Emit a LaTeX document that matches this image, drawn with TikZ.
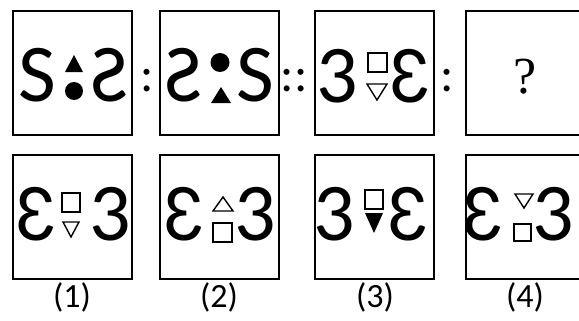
\documentclass[tikz,border=0pt]{standalone}
\usepackage{fontspec}
\setmainfont{Carlito}
\newfontfamily\queryfont{Liberation Serif}
\usepackage{graphicx}
\usetikzlibrary{positioning}

\begin{document}
\begin{tikzpicture}[
    x=0.5pt, y=-0.5pt,
    panel/.style={rectangle, draw, line width=1pt, minimum width=59.5pt, minimum height=62pt, inner sep=0pt},
    glyph/.style={inner sep=0pt, font=\fontsize{41}{41}\selectfont},
    ratio/.style={inner sep=0pt, font=\fontsize{25}{25}\selectfont},
    query/.style={inner sep=0pt, font=\fontsize{26}{26}\selectfont\queryfont},
    caption/.style={inner sep=0pt, font=\fontsize{17}{20}\selectfont},
    hollow/.style={draw, line width=0.7pt, line join=miter},
    filled/.style={fill=black}
]
    \useasboundingbox (0,0) rectangle (579,321);
    \clip (0,0) rectangle (579,321);

    % question row
    \node[panel] (q_1) at (72.5, 73) {};
    \node[panel] (q_2) at (219.5, 73) {};
    \node[panel] (q_3) at (374.5, 73) {};
    \node[panel] (q_4) at (525.5, 73) {};

    \node[ratio] (colon_1) at (147, 81) {:};
    \node[ratio] (colon_2) at (294, 81) {::};
    \node[ratio] (colon_3) at (447, 81) {:};

    \node[glyph] (q1_left) at (37, 75) {S};
    \node[glyph] (q1_right) at (110, 75) {\reflectbox{S}};
    \path[filled] (74, 55) -- (83, 72) -- (65, 72) -- cycle;
    \path[filled] (74, 91) circle[radius=9];

    \node[glyph] (q2_left) at (184, 75) {\reflectbox{S}};
    \node[glyph] (q2_right) at (255, 75) {S};
    \path[filled] (220, 62.5) circle[radius=9.5];
    \path[filled] (221, 87) -- (231, 103) -- (211, 103) -- cycle;

    \node[glyph] (q3_left) at (337, 76) {3};
    \node[glyph] (q3_right) at (411, 76) {\reflectbox{3}};
    \draw[hollow] (368, 53) rectangle (387, 72);
    \draw[hollow] (367, 84) -- (387, 84) -- (377, 100) -- cycle;

    \node[query] (q4_mark) at (525, 77) {?};

    % answer row
    \node[panel] (a_1) at (72.5, 217) {};
    \node[panel] (a_2) at (219.5, 217) {};
    \node[panel] (a_3) at (374.5, 217) {};
    \node[panel] (a_4) at (525.5, 217) {};

    \node[glyph] (a1_left) at (37, 214) {\reflectbox{3}};
    \node[glyph] (a1_right) at (110, 214) {3};
    \draw[hollow] (62, 193) rectangle (80, 212);
    \draw[hollow] (63, 222) -- (79, 222) -- (71, 237) -- cycle;

    \node[glyph] (a2_left) at (185, 214) {\reflectbox{3}};
    \node[glyph] (a2_right) at (255, 214) {3};
    \draw[hollow] (223, 197) -- (233, 211) -- (213, 211) -- cycle;
    \draw[hollow] (213, 223) rectangle (232, 242);

    \node[glyph] (a3_left) at (334, 214) {3};
    \node[glyph] (a3_right) at (409, 214) {\reflectbox{3}};
    \draw[hollow] (365, 190) rectangle (383, 209);
    \path[filled] (365, 213) -- (383, 213) -- (374, 233) -- cycle;

    \node[glyph] (a4_left) at (484, 214) {\reflectbox{3}};
    \node[glyph] (a4_right) at (553, 214) {3};
    \draw[hollow] (515, 194) -- (533, 194) -- (524, 208) -- cycle;
    \draw[hollow] (514, 224) rectangle (531, 241);

    \node[caption] (cap_1) at (72, 297) {(1)};
    \node[caption] (cap_2) at (219, 297) {(2)};
    \node[caption] (cap_3) at (375, 297) {(3)};
    \node[caption] (cap_4) at (525, 297) {(4)};
\end{tikzpicture}
\end{document}
